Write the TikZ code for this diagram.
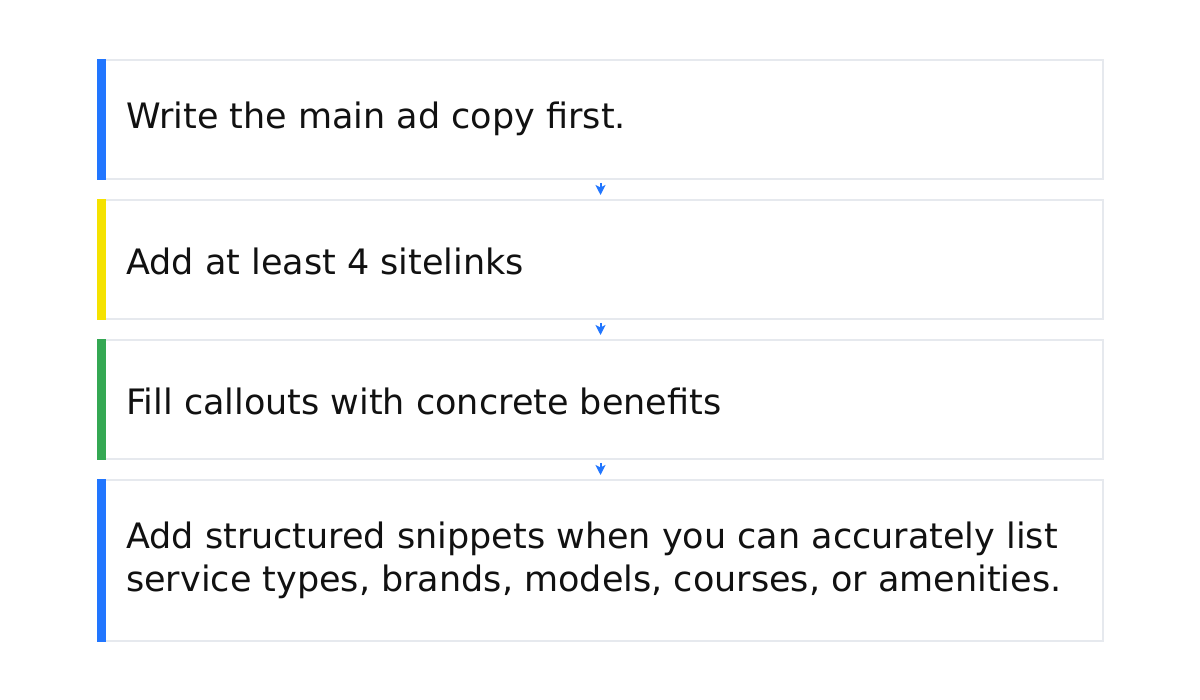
\documentclass[tikz,border=0pt]{standalone}
\usepackage{fontspec}
\setmainfont{DejaVu Sans}
\usetikzlibrary{positioning,arrows.meta}
\definecolor{barblue}{HTML}{2176FF}
\definecolor{baryellow}{HTML}{F5E200}
\definecolor{bargreen}{HTML}{34A853}
\definecolor{cardline}{HTML}{E6E9EE}
\definecolor{cardtext}{HTML}{111111}
\tikzset{
  card/.style={draw=cardline, line width=2pt, fill=white, minimum width=1005pt, inner sep=0pt, anchor=north west},
  cardlabel/.style={anchor=west, inner sep=0pt, text=cardtext, align=left, font=\fontsize{35}{43}\selectfont},
  flow/.style={draw=barblue, line width=2pt, -{Stealth[length=10pt,width=10pt,inset=2.5pt]}, shorten <=3pt, shorten >=4pt}
}
\begin{document}
\begin{tikzpicture}[x=1pt,y=-1pt]
\useasboundingbox (0,0) rectangle (1200,700);
% cards
\node[card, minimum height=119pt] (c1) at (97,59) {};
\node[card, minimum height=119pt] (c2) at (97,199) {};
\node[card, minimum height=119pt] (c3) at (97,339) {};
\node[card, minimum height=161pt] (c4) at (97,479) {};
% colour bars
\fill[barblue] (c1.north west) rectangle ([xshift=9pt]c1.south west);
\fill[baryellow] (c2.north west) rectangle ([xshift=9pt]c2.south west);
\fill[bargreen] (c3.north west) rectangle ([xshift=9pt]c3.south west);
\fill[barblue] (c4.north west) rectangle ([xshift=9pt]c4.south west);
% texts
\node[cardlabel] (t1) at (126,119) {Write the main ad copy first.};
\node[cardlabel] (t2) at (126,261) {Add at least 4 sitelinks};
\node[cardlabel] (t3) at (126,401) {Fill callouts with concrete benefits};
\node[cardlabel] (t4) at (126,560) {Add structured snippets when you can accurately list\\service types, brands, models, courses, or amenities.};
% arrows
\draw[flow] (c1.south) -- (c2.north);
\draw[flow] (c2.south) -- (c3.north);
\draw[flow] (c3.south) -- (c4.north);
\end{tikzpicture}
\end{document}
